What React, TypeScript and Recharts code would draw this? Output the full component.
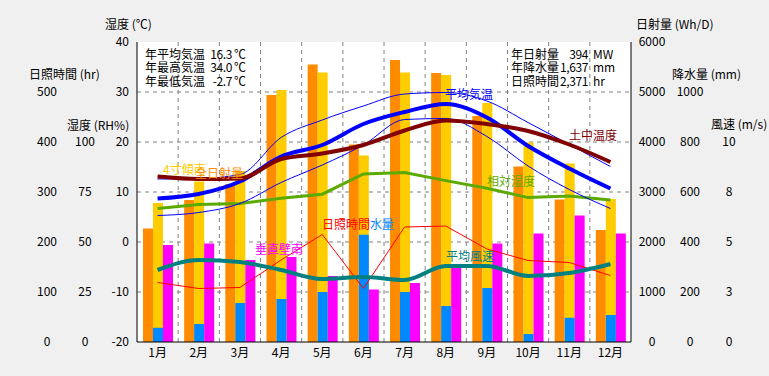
import React from 'react';
import { ComposedChart, Bar, Line, XAxis, YAxis, CartesianGrid } from 'recharts';

// colours
const colors = {
  bg: '#F0F0F0',
  grid: '#808080',
  solarHoriz: '#FF8C00',
  solarTilt: '#FFCC00',
  solarWall: '#FF00FF',
  precip: '#0088FF',
  sunshine: '#FF0000',
  temp: '#0000FF',
  soil: '#800000',
  rh: '#5AAA00',
  wind: '#008080',
};

const months = ['1月', '2月', '3月', '4月', '5月', '6月', '7月', '8月', '9月', '10月', '11月', '12月'];

// 日射量 (Wh/D)
const solarHoriz = [2270, 2840, 3160, 4940, 5550, 3950, 5640, 5380, 4520, 3510, 2850, 2240];
const solarTilt = [2780, 3210, 3420, 5040, 5390, 3730, 5390, 5340, 4780, 3990, 3570, 2860];
const solarWall = [1940, 1970, 1640, 1700, 1320, 1050, 1180, 1510, 1970, 2170, 2530, 2170];
// 降水量 (mm)
const precip = [57, 72, 156, 172, 200, 429, 200, 144, 216, 32, 97, 108];
// 日照時間 (hr)
const sunshine = [119, 107, 109, 164, 215, 107, 230, 232, 186, 163, 159, 133];
// 平均風速 (m/s)
const wind = [3.6, 4.1, 4.0, 3.6, 3.15, 3.25, 3.1, 3.8, 3.8, 3.3, 3.45, 3.9];
// 相対湿度 (RH%)
const rh = [66.8, 68.7, 69.2, 71.9, 73.9, 84, 84.7, 80.7, 76.9, 72.2, 73, 71];
// temperatures (℃)
const tAvg = [8.7, 9.6, 12.1, 17.1, 19.4, 23.6, 26.0, 27.6, 24.9, 19.2, 14.7, 10.7];
const tMax = [12.6, 12.7, 13.5, 20.9, 24.4, 27.2, 29.6, 29.9, 28.2, 23.9, 19.5, 15.1];
const tMin = [5.3, 5.9, 7.7, 11.9, 15.4, 19.4, 24.5, 24.7, 21.1, 15.2, 10.5, 6.7];
const soil = [13.1, 12.6, 12.7, 16.6, 17.7, 19.4, 22.3, 24.3, 23.6, 22.2, 19.5, 16.0];

// axis ticks
const tempTicks = [-20, -10, 0, 10, 20, 30, 40];
const rhTicks = [0, 25, 50, 75, 100];
const sunTicks = [0, 100, 200, 300, 400, 500];
const solarTicks = [0, 1000, 2000, 3000, 4000, 5000, 6000];
const precipTicks = [0, 200, 400, 600, 800, 1000];
const windTicks = [0, 2.5, 5, 7.5, 10];

const leftStats = [
  ['年平均気温', '16.3', '℃'],
  ['年最高気温', '34.0', '℃'],
  ['年最低気温', '-2.7', '℃'],
];
const rightStats = [
  ['年日射量', '394', 'MW'],
  ['年降水量', '1,637', 'mm'],
  ['日照時間', '2,371', 'hr'],
];

const data = months.map((month, i) => ({
  month,
  solarHoriz: solarHoriz[i],
  solarTilt: solarTilt[i],
  solarWall: solarWall[i],
  precip: precip[i],
  sunshine: sunshine[i],
  wind: wind[i],
  rh: rh[i],
  tAvg: tAvg[i],
  tMax: tMax[i],
  tMin: tMin[i],
  soil: soil[i],
}));

// text placed over the chart (left, top)
const axisTitles = [
  { text: '湿度 (℃)', x: 105, y: 18 },
  { text: '日照時間 (hr)', x: 29, y: 68 },
  { text: '湿度 (RH%)', x: 67, y: 119 },
  { text: '日射量 (Wh/D)', x: 636, y: 18 },
  { text: '降水量 (mm)', x: 672, y: 68 },
  { text: '風速 (m/s)', x: 711, y: 118 },
];

const seriesLabels = [
  { text: '4寸傾南', x: 163, y: 163, color: colors.solarTilt },
  { text: '全日射量', x: 195, y: 167, color: colors.solarHoriz },
  { text: '垂直壁南', x: 255, y: 243, color: colors.solarWall },
  { text: '日照時間', x: 322, y: 218, color: colors.sunshine },
  { text: '水量', x: 370, y: 218, color: colors.precip },
  { text: '平均気温', x: 445, y: 88, color: colors.temp },
  { text: '土中温度', x: 569, y: 129, color: colors.soil },
  { text: '相対湿度', x: 487, y: 175, color: colors.rh },
  { text: '平均風速', x: 446, y: 250, color: colors.wind },
];

const tickStyle = { fill: '#000', fontSize: 12 };
const midTick = { ...tickStyle, textAnchor: 'middle' as const };

const scaleOf = (axis: any, v: number, fallback: number) => {
  const s = axis?.scale;
  if (typeof s === 'function') return s(v);
  if (s && typeof s.map === 'function') return s.map(v);
  return fallback;
};

const horizontalGrid = ({ yAxis, offset }: any) =>
  tempTicks
    .slice(1, -1)
    .map((t) => scaleOf(yAxis, t, offset.top + (offset.height * (40 - t)) / 60));

const verticalGrid = ({ offset }: any) =>
  months.slice(1).map((_, i) => offset.left + (offset.width * (i + 1)) / months.length);

const rowTop = (i: number) => 48 + i * 13.3;

export default function App() {
  return (
    <div
      style={{
        position: 'absolute',
        left: 0,
        top: 0,
        width: 769,
        height: 376,
        background: colors.bg,
        fontFamily: "'Noto Sans CJK JP', sans-serif",
        fontSize: 12,
        lineHeight: '12px',
      }}
    >
      <ComposedChart
        width={769}
        height={376}
        data={data}
        margin={{ top: 42, right: 0, bottom: 0, left: 0 }}
        barGap={0}
        barSize={10}
      >
        <CartesianGrid
          xAxisId="a"
          yAxisId="l1temp"
          fill="#fff"
          stroke={colors.grid}
          strokeDasharray="4 4"
          horizontalCoordinatesGenerator={horizontalGrid}
          verticalCoordinatesGenerator={verticalGrid}
        />
        <XAxis
          xAxisId="a"
          dataKey="month"
          height={34}
          interval={0}
          tickLine={false}
          tickSize={0}
          tickMargin={6}
          axisLine={{ stroke: '#000' }}
          tick={tickStyle}
        />
        <XAxis
          xAxisId="b"
          dataKey="month"
          orientation="top"
          height={0}
          tick={false}
          tickLine={false}
          axisLine={{ stroke: '#000' }}
        />
        {/* left axes, nearest to the plot first */}
        <YAxis
          yAxisId="l1temp"
          width={40}
          domain={[-20, 40]}
          ticks={tempTicks}
          interval={0}
          tickSize={0}
          tickMargin={8}
          tickLine={false}
          axisLine={{ stroke: '#000' }}
          tick={tickStyle}
        />
        <YAxis
          yAxisId="l2rh"
          width={40}
          domain={[0, 150]}
          ticks={rhTicks}
          interval={0}
          tickSize={0}
          tickMargin={12}
          tickLine={false}
          axisLine={false}
          tick={midTick}
        />
        <YAxis
          yAxisId="l3sun"
          width={57}
          domain={[0, 600]}
          ticks={sunTicks}
          interval={0}
          tickSize={0}
          tickMargin={10}
          tickLine={false}
          axisLine={false}
          tick={midTick}
        />
        {/* right axes, nearest to the plot first */}
        <YAxis
          yAxisId="r1solar"
          orientation="right"
          width={40}
          domain={[0, 6000]}
          ticks={solarTicks}
          interval={0}
          tickSize={0}
          tickMargin={21}
          tickLine={false}
          axisLine={{ stroke: '#000' }}
          tick={midTick}
        />
        <YAxis
          yAxisId="r2precip"
          orientation="right"
          width={40}
          domain={[0, 1200]}
          ticks={precipTicks}
          interval={0}
          tickSize={0}
          tickMargin={19}
          tickLine={false}
          axisLine={false}
          tick={midTick}
        />
        <YAxis
          yAxisId="r3wind"
          orientation="right"
          width={58}
          domain={[0, 15]}
          ticks={windTicks}
          interval={0}
          tickSize={0}
          tickMargin={18}
          tickLine={false}
          axisLine={false}
          tick={midTick}
          tickFormatter={(v: number) => String(Math.round(v))}
        />

        <Bar xAxisId="a" yAxisId="r1solar" dataKey="solarHoriz" fill={colors.solarHoriz} isAnimationActive={false} />
        <Bar xAxisId="a" yAxisId="r1solar" dataKey="solarTilt" fill={colors.solarTilt} isAnimationActive={false} />
        <Bar xAxisId="a" yAxisId="r1solar" dataKey="solarWall" fill={colors.solarWall} isAnimationActive={false} />
        <Bar xAxisId="b" yAxisId="r2precip" dataKey="precip" fill={colors.precip} isAnimationActive={false} />

        <Line xAxisId="a" yAxisId="l3sun" dataKey="sunshine" type="linear" stroke={colors.sunshine} strokeWidth={1} dot={false} isAnimationActive={false} />
        <Line xAxisId="a" yAxisId="l2rh" dataKey="rh" type="linear" stroke={colors.rh} strokeWidth={3} dot={false} isAnimationActive={false} />
        <Line xAxisId="a" yAxisId="l1temp" dataKey="tMax" type="monotone" stroke={colors.temp} strokeWidth={1} dot={false} isAnimationActive={false} />
        <Line xAxisId="a" yAxisId="l1temp" dataKey="tMin" type="monotone" stroke={colors.temp} strokeWidth={1} dot={false} isAnimationActive={false} />
        <Line xAxisId="a" yAxisId="l1temp" dataKey="tAvg" type="monotone" stroke={colors.temp} strokeWidth={4} dot={false} isAnimationActive={false} />
        <Line xAxisId="a" yAxisId="l1temp" dataKey="soil" type="monotone" stroke={colors.soil} strokeWidth={4} dot={false} isAnimationActive={false} />
        <Line xAxisId="a" yAxisId="r3wind" dataKey="wind" type="monotone" stroke={colors.wind} strokeWidth={4} dot={false} isAnimationActive={false} />
      </ComposedChart>

      {axisTitles.map((t) => (
        <span key={t.text} style={{ position: 'absolute', left: t.x, top: t.y, whiteSpace: 'pre', color: '#000' }}>
          {t.text}
        </span>
      ))}

      {leftStats.map(([label, value, unit], i) => (
        <React.Fragment key={label}>
          <span style={{ position: 'absolute', left: 145, top: rowTop(i), whiteSpace: 'pre' }}>{label}</span>
          <span style={{ position: 'absolute', left: 207, width: 25, top: rowTop(i), textAlign: 'right', letterSpacing: -0.4 }}>{value}</span>
          <span style={{ position: 'absolute', left: 234, top: rowTop(i) }}>{unit}</span>
        </React.Fragment>
      ))}

      {rightStats.map(([label, value, unit], i) => (
        <React.Fragment key={label}>
          <span style={{ position: 'absolute', left: 511, top: rowTop(i), whiteSpace: 'pre' }}>{label}</span>
          <span style={{ position: 'absolute', left: 560, width: 28, top: rowTop(i), textAlign: 'right', letterSpacing: -0.4 }}>{value}</span>
          <span style={{ position: 'absolute', left: 593, top: rowTop(i) }}>{unit}</span>
        </React.Fragment>
      ))}

      {seriesLabels.map((l) => (
        <span key={l.text} style={{ position: 'absolute', left: l.x, top: l.y, color: l.color, whiteSpace: 'pre' }}>
          {l.text}
        </span>
      ))}
    </div>
  );
}
